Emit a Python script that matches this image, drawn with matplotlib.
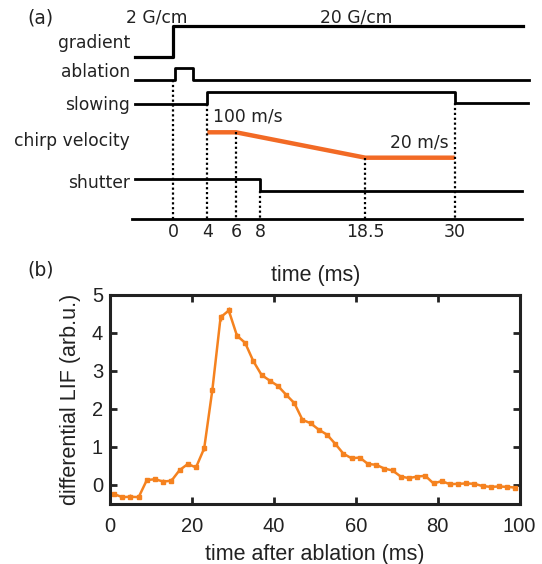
import numpy as np
import matplotlib.pyplot as plt

W, H = 542, 564

# ---- panel (a): timing sequence, times in ms ----
tick_times = [0, 4, 6, 8, 18.5, 30]
tick_labels = ['0', '4', '6', '8', '18.5', '30']

gradient_t = [-4.5, 0, 0, 38.8]
gradient_lvl = [0, 0, 1, 1]
ablation_t = [-4.5, 0.25, 0.25, 2.3, 2.3, 39.5]
ablation_lvl = [0, 0, 1, 1, 0, 0]
slowing_t = [-4.5, 4, 4, 30, 30, 39.4]
slowing_lvl = [0, 0, 1, 1, 0.1, 0.1]
shutter_t = [-4.5, 8, 8, 38.6]
shutter_lvl = [1, 1, 0, 0]
chirp_t = [4, 6, 18.5, 30]
chirp_v = [100, 100, 20, 20]   # m/s

# ---- panel (b): differential LIF vs time after ablation ----
t_ms = [1, 3, 5, 7, 9, 11, 13, 15, 17, 19, 21, 23, 25, 27, 29, 31, 33, 35, 37, 39,
        41, 43, 45, 47, 49, 51, 53, 55, 57, 59, 61, 63, 65, 67, 69, 71, 73, 75, 77, 79,
        81, 83, 85, 87, 89, 91, 93, 95, 97, 99]
lif = [-0.24, -0.32, -0.31, -0.32, 0.13, 0.15, 0.09, 0.11, 0.39, 0.55,
       0.46, 0.96, 2.50, 4.40, 4.58, 3.92, 3.73, 3.25, 2.89, 2.74,
       2.60, 2.37, 2.15, 1.71, 1.62, 1.45, 1.32, 1.08, 0.82, 0.70,
       0.72, 0.55, 0.53, 0.43, 0.38, 0.22, 0.18, 0.22, 0.24, 0.04,
       0.10, 0.02, 0.03, 0.04, 0.03, -0.03, -0.05, -0.04, -0.05, -0.07]
lif_err = [0.05, 0.05, 0.06, 0.05, 0.05, 0.05, 0.06, 0.06, 0.06, 0.06,
           0.05, 0.06, 0.08, 0.09, 0.09, 0.07, 0.06, 0.06, 0.06, 0.05,
           0.05, 0.05, 0.06, 0.05, 0.05, 0.05, 0.05, 0.05, 0.05, 0.05,
           0.04, 0.05, 0.05, 0.04, 0.04, 0.05, 0.04, 0.05, 0.05, 0.04,
           0.04, 0.05, 0.04, 0.05, 0.04, 0.04, 0.04, 0.05, 0.05, 0.04]

orange_a = '#F26A25'
orange_b = '#F5821F'
txt = '#222222'

fig = plt.figure(figsize=(W / 100, H / 100), dpi=100)


def fxy(x, y):
    return x / W, 1 - y / H


# schematic (not to scale) time axis: time -> pixel
T_KNOTS = np.array([-20.4, 0, 4, 6, 8, 18.5, 30, 41.2])
X_KNOTS = np.array([0, 173.3, 207.3, 236, 260, 365.3, 454.7, 542])


def fwd(t):
    return np.interp(t, T_KNOTS, X_KNOTS)


def inv(x):
    return np.interp(x, X_KNOTS, T_KNOTS)


ax_a = fig.add_axes([0, 1 - 250 / H, 1, 250 / H])
ax_a.set_xscale('function', functions=(fwd, inv))
ax_a.set_xlim(T_KNOTS[0], T_KNOTS[-1])
ax_a.set_ylim(250, 0)
ax_a.axis('off')

# row baselines / heights (pixels from top)
rows = {'gradient': (57.3, 31.3), 'ablation': (80, 12.3),
        'slowing': (104, 11.5), 'shutter': (190.7, 11.7)}


def row_y(name, lvl):
    base, h = rows[name]
    return base - np.array(lvl) * h


ax_a.plot(gradient_t, row_y('gradient', gradient_lvl), color='k', lw=2.3)
ax_a.plot(ablation_t, row_y('ablation', ablation_lvl), color='k', lw=2.0)
ax_a.plot(slowing_t, row_y('slowing', slowing_lvl), color='k', lw=2.0)
ax_a.plot(shutter_t, row_y('shutter', shutter_lvl), color='k', lw=2.0)
chirp_y = 157.7 - (np.array(chirp_v) - 20) * 25.4 / 80
ax_a.plot(chirp_t, chirp_y, color=orange_a, lw=3.2, solid_capstyle='butt')

timeline_y = 218.7
ax_a.plot([-4.85, 38.6], [timeline_y, timeline_y], color='k', lw=2.0)

dot_tops = [80, 104, chirp_y[1], 190.7, chirp_y[2], 103]
for t, top in zip(tick_times, dot_tops):
    ax_a.plot([t, t], [top, timeline_y], color='k', lw=1.6, linestyle=(0, (1, 1.2)))
for t, lab in zip(tick_times, tick_labels):
    ax_a.text(t, 232, lab, ha='center', va='center', fontsize=12.5, color=txt)

for name, y in [('gradient', 43.3), ('ablation', 71.7), ('slowing', 105),
                ('chirp velocity', 140.7), ('shutter', 182.7)]:
    fig.text(*fxy(130, y), name, ha='right', va='center', fontsize=12.3, color=txt)

fig.text(*fxy(156.7, 17.5), '2 G/cm', ha='center', va='center', fontsize=12.3, color=txt)
fig.text(*fxy(356, 17.5), '20 G/cm', ha='center', va='center', fontsize=12.3, color=txt)
fig.text(*fxy(213, 116.5), '100 m/s', ha='left', va='center', fontsize=12.3, color=txt)
fig.text(*fxy(449, 142.5), '20 m/s', ha='right', va='center', fontsize=12.3, color=txt)
fig.text(*fxy(27, 18), '(a)', ha='left', va='center', fontsize=13.5, color=txt)
fig.text(*fxy(27, 270), '(b)', ha='left', va='center', fontsize=13.5, color=txt)

# ---- panel (b) ----
hv = ['Liberation Sans', 'DejaVu Sans']
ax = fig.add_axes([110 / W, 1 - 504 / H, (519.5 - 110) / W, (504 - 294.5) / H])
ax.errorbar(t_ms, lif, yerr=lif_err, color=orange_b, lw=1.8, marker='s', ms=2.8,
            elinewidth=1.0, capsize=0)
ax.set_xlim(0, 100)
ax.set_ylim(-0.5, 5)
ax.set_xticks([0, 20, 40, 60, 80, 100])
ax.set_yticks([0, 1, 2, 3, 4, 5])
for s in ax.spines.values():
    s.set_linewidth(2.2)
    s.set_color('#222222')
ax.tick_params(direction='in', top=True, right=True, length=5, width=2,
               labelsize=14.5, colors='#222222')
ax.tick_params(axis='x', pad=9)
ax.tick_params(axis='y', pad=5)
for lab in ax.get_xticklabels() + ax.get_yticklabels():
    lab.set_family(hv)
ax.set_xlabel('time after ablation (ms)', fontsize=15.5, family=hv, color=txt, labelpad=6)
ax.set_ylabel('differential LIF (arb.u.)', fontsize=15.5, family=hv, color=txt, labelpad=7.5)
fig.text(*fxy(316, 275), 'time (ms)', ha='center', va='center', fontsize=15.5,
         family=hv, color=txt)

fig.savefig('out.png', dpi=100)
